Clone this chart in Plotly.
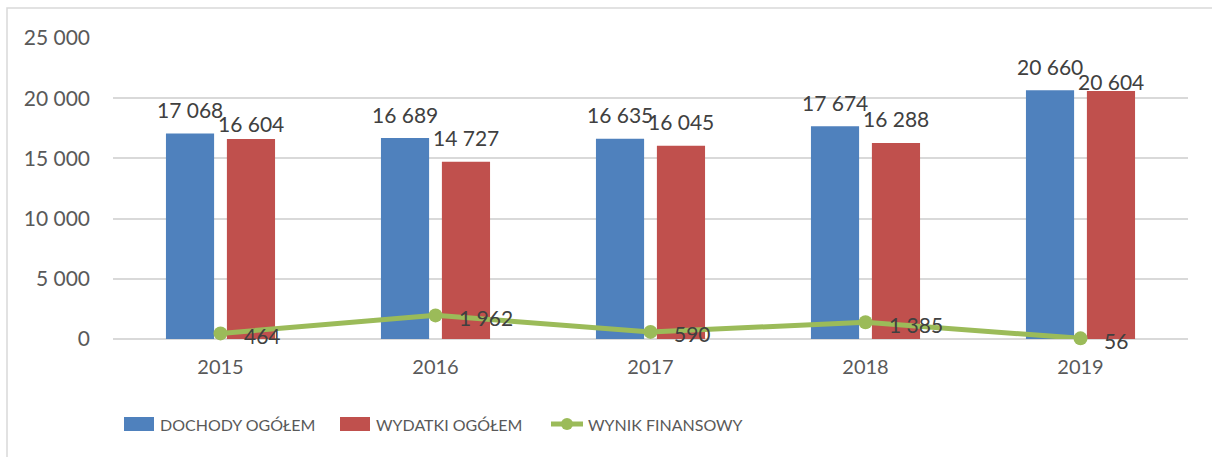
import plotly.graph_objects as go

years = ["2015", "2016", "2017", "2018", "2019"]
dochody = [17068, 16689, 16635, 17674, 20660]
wydatki = [16604, 14727, 16045, 16288, 20604]
wynik = [464, 1962, 590, 1385, 56]
tick_vals = [0, 5000, 10000, 15000, 20000, 25000]
tick_text = ["0", "5 000", "10 000", "15 000", "20 000", "25 000"]
series_names = ["DOCHODY OGÓŁEM", "WYDATKI OGÓŁEM", "WYNIK FINANSOWY"]
colors = ["#4F81BD", "#C0504D", "#9BBB59"]

# vertical lift (px) of each bar value label above its bar top
lift_dochody = [24, 24, 24, 24, 24]
lift_wydatki = [15.5, 24, 24, 24, 9.5]


def fmt(v):
    return f"{v:,}".replace(",", " ")


FONT = "Lato"
LABEL_FONT = dict(family=FONT, size=21, color="#404040")
W, H = 1212, 457
L, R, T, B = 113, 24, 38, 118
pw, ph = W - L - R, H - T - B
SLOT = 61  # px between the centres of the two bars in a group


def px(x):
    return (x - L) / pw


def py(y):
    return (H - B - y) / ph


fig = go.Figure()
for name, vals, col in zip(series_names[:2], [dochody, wydatki], colors[:2]):
    fig.add_trace(go.Bar(
        x=years, y=vals, name=name,
        marker=dict(color=col, line=dict(width=0)),
    ))
fig.add_trace(go.Scatter(
    x=years, y=wynik, name=series_names[2], mode="lines+markers",
    line=dict(color=colors[2], width=5),
    marker=dict(color=colors[2], size=14),
    cliponaxis=False,
))

# bar value labels (category axis: annotation x is the category index)
for vals, lifts, side in [(dochody, lift_dochody, -1), (wydatki, lift_wydatki, 1)]:
    for i, (v, lift) in enumerate(zip(vals, lifts)):
        fig.add_annotation(x=i, y=v, xref="x", yref="y", text=fmt(v),
                           showarrow=False, xanchor="center", yanchor="middle",
                           xshift=side * SLOT / 2, yshift=lift, font=LABEL_FONT)

# value labels for the result line, to the right of each point
for i, v in enumerate(wynik):
    fig.add_annotation(x=i, y=v, xref="x", yref="y", text=fmt(v), showarrow=False,
                       xanchor="left", yanchor="middle", xshift=21, yshift=-2,
                       font=LABEL_FONT)

# custom legend below the plot
ly = py(424)
LEG_FONT = dict(family=FONT, size=16, color="#595959")
for i, (x0, tx) in enumerate([(124, 158), (340, 374)]):
    fig.add_shape(type="rect", xref="paper", yref="paper",
                  x0=px(x0), x1=px(x0 + 30), y0=py(431), y1=py(417),
                  fillcolor=colors[i], line=dict(width=0))
    fig.add_annotation(xref="paper", yref="paper", x=px(tx), y=ly,
                       text=series_names[i], showarrow=False,
                       xanchor="left", yanchor="middle", font=LEG_FONT)
fig.add_shape(type="line", xref="paper", yref="paper",
              x0=px(551), x1=px(583), y0=ly, y1=ly,
              line=dict(color=colors[2], width=5))
fig.add_shape(type="circle", xref="paper", yref="paper",
              x0=px(561), x1=px(573), y0=py(430), y1=py(418),
              fillcolor=colors[2], line=dict(width=0))
fig.add_annotation(xref="paper", yref="paper", x=px(586), y=ly,
                   text=series_names[2], showarrow=False,
                   xanchor="left", yanchor="middle", font=LEG_FONT)

# thin grey frame around the chart area
fig.add_shape(type="rect", xref="paper", yref="paper",
              x0=px(7), x1=px(W + 30), y0=py(H + 30), y1=py(8),
              line=dict(color="#D9D9D9", width=1.5), layer="below")

fig.update_layout(
    width=W, height=H,
    margin=dict(l=L, r=R, t=T, b=B, autoexpand=False),
    paper_bgcolor="white", plot_bgcolor="white",
    barmode="group", bargap=0.433, bargroupgap=0.21,
    font=dict(family=FONT, size=20, color="#595959"),
    showlegend=False,
    xaxis=dict(type="category", range=[-0.5, 4.5], showgrid=False, showline=False,
               ticks="", tickfont=dict(size=20), ticklabelstandoff=14),
    yaxis=dict(range=[0, 25000], tickvals=tick_vals, ticktext=tick_text,
               showgrid=True, gridcolor="#D9D9D9", gridwidth=1.5,
               zeroline=True, zerolinecolor="#D9D9D9", zerolinewidth=1.5,
               showline=False, ticks="", tickfont=dict(size=21),
               ticklabelstandoff=22),
)

fig.write_html("out.html")
